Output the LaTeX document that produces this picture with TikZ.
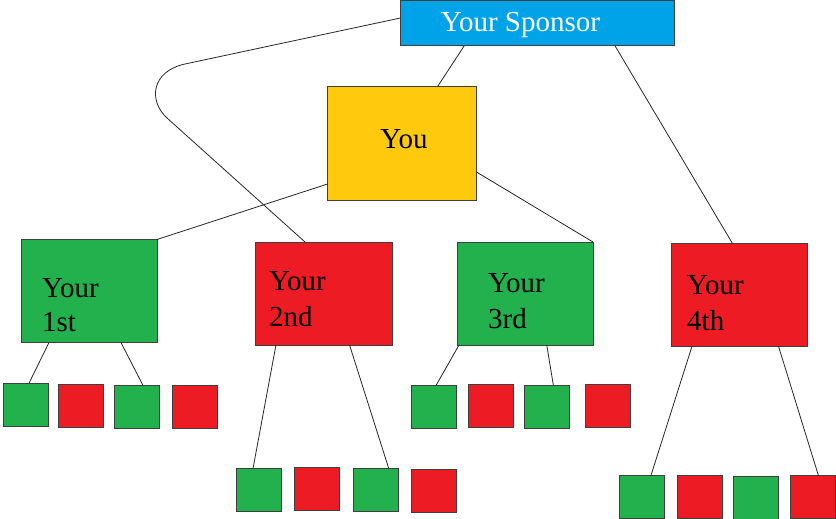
\documentclass[tikz,border=0pt]{standalone}
\usepackage{fontspec}
\setmainfont{Liberation Serif}
\usetikzlibrary{calc}
\definecolor{cblue}{HTML}{00A2E8}
\definecolor{cyel}{HTML}{FFC90E}
\definecolor{cgreen}{HTML}{22B14C}
\definecolor{cred}{HTML}{ED1C24}
\definecolor{cborder}{HTML}{3F3F3F}
\tikzset{
  box/.style={draw=cborder, line width=1pt, inner sep=0pt, outer sep=0pt},
  sq/.style={box, minimum width=45pt, minimum height=43pt},
  big/.style={box, minimum width=136pt, minimum height=103pt},
  lbl/.style={inner sep=0pt, anchor=base west, font=\fontsize{29}{33}\selectfont},
  conn/.style={draw=black!85, line width=0.8pt},
}
\begin{document}
\begin{tikzpicture}[x=1pt,y=-1pt]
\useasboundingbox (0,0) rectangle (836,519);
% main boxes
\node[box, fill=cblue, minimum width=274pt, minimum height=45pt] (sp) at (537,23.5) {};
\node[box, fill=cyel, minimum width=149pt, minimum height=113pt] (you) at (401.5,143.5) {};
\node[big, fill=cgreen] (b1) at (89,291) {};
\node[big, fill=cred, minimum width=137pt] (b2) at (323.5,293.5) {};
\node[big, fill=cgreen] (b3) at (525,293.5) {};
\node[big, fill=cred] (b4) at (739,294.5) {};
% labels
\node[inner sep=0pt, anchor=base, text=white, font=\fontsize{29}{33}\selectfont] (tsp) at (520.5,32) {Your Sponsor};
\node[inner sep=0pt, anchor=base, font=\fontsize{29}{33}\selectfont] (tyou) at (404,148) {You};
\node[lbl] (t1a) at (42,297) {Your};
\node[lbl] (t1b) at (42,331) {1st};
\node[lbl] (t2a) at (269,290) {Your};
\node[lbl] (t2b) at (269,326) {2nd};
\node[lbl] (t3a) at (488,292) {Your};
\node[lbl] (t3b) at (488,328) {3rd};
\node[lbl] (t4a) at (687,294) {Your};
\node[lbl] (t4b) at (687,330) {4th};
% small squares
\node[sq, fill=cgreen] (s1a) at (25.5,404.5) {};
\node[sq, fill=cred]   (s1b) at (81,405.5) {};
\node[sq, fill=cgreen] (s1c) at (136.5,406.5) {};
\node[sq, fill=cred]   (s1d) at (194.5,406.5) {};
\node[sq, fill=cgreen] (s2a) at (258.5,489.5) {};
\node[sq, fill=cred]   (s2b) at (316.5,488.5) {};
\node[sq, fill=cgreen] (s2c) at (376,489.5) {};
\node[sq, fill=cred]   (s2d) at (434,490.5) {};
\node[sq, fill=cgreen] (s3a) at (434,406.5) {};
\node[sq, fill=cred]   (s3b) at (490.5,405.5) {};
\node[sq, fill=cgreen] (s3c) at (547,406.5) {};
\node[sq, fill=cred]   (s3d) at (607.5,405.5) {};
\node[sq, fill=cgreen] (s4a) at (641.5,497) {};
\node[sq, fill=cred]   (s4b) at (699.5,497) {};
\node[sq, fill=cgreen] (s4c) at (756,497.5) {};
\node[sq, fill=cred]   (s4d) at (813,497) {};
% connectors
\draw[conn] ($(sp.south west)!0.234!(sp.south east)$) -- ($(you.north west)!0.74!(you.north east)$);
\draw[conn] ($(sp.south west)!0.785!(sp.south east)$) -- ($(b4.north west)!0.45!(b4.north east)$);
\draw[conn] ($(sp.north west)!0.38!(sp.south west)$) -- (185,64) .. controls (150.8,71.5) and (148.5,101) .. (167,118) -- ($(b2.north west)!0.365!(b2.north east)$);
\draw[conn] ($(you.north west)!0.86!(you.south west)$) -- (b1.north east);
\draw[conn] ($(you.north east)!0.75!(you.south east)$) -- (b3.north east);
\draw[conn] ($(b1.south west)!0.206!(b1.south east)$) -- ($(s1a.north west)!0.58!(s1a.north east)$);
\draw[conn] ($(b1.south west)!0.735!(b1.south east)$) -- ($(s1c.north west)!0.64!(s1c.north east)$);
\draw[conn] ($(b2.south west)!0.153!(b2.south east)$) -- ($(s2a.north west)!0.38!(s2a.north east)$);
\draw[conn] ($(b2.south west)!0.69!(b2.south east)$) -- ($(s2c.north west)!0.78!(s2c.north east)$);
\draw[conn] ($(b3.south west)!0.015!(b3.south east)$) -- ($(s3a.north west)!0.55!(s3a.north east)$);
\draw[conn] ($(b3.south west)!0.66!(b3.south east)$) -- ($(s3c.north west)!0.64!(s3c.north east)$);
\draw[conn] ($(b4.south west)!0.155!(b4.south east)$) -- ($(s4a.north west)!0.71!(s4a.north east)$);
\draw[conn] ($(b4.south west)!0.79!(b4.south east)$) -- ($(s4d.north west)!0.62!(s4d.north east)$);
\end{tikzpicture}
\end{document}
